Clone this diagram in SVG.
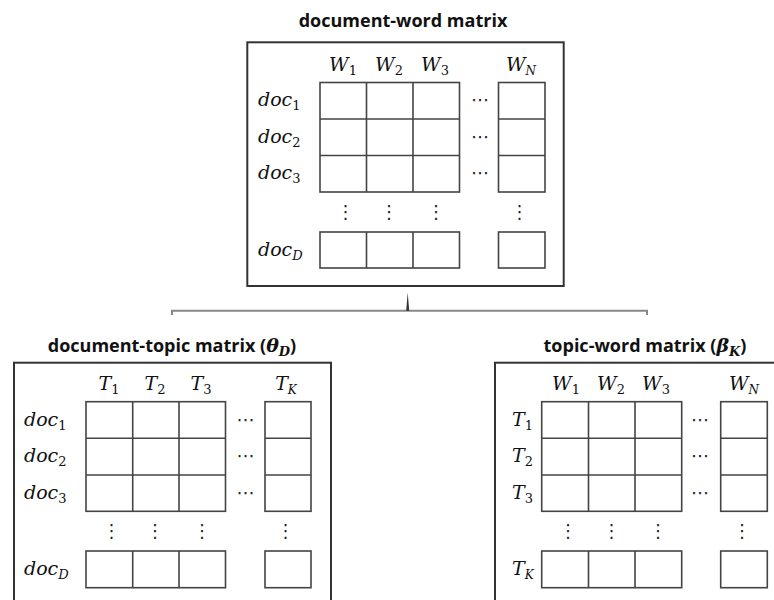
<svg xmlns="http://www.w3.org/2000/svg" width="774" height="600" viewBox="0 0 774 600">
<style>
.title{font-family:"Open Sans","Noto Sans",sans-serif;font-weight:bold;font-size:18px;fill:#111;}
.m{font-family:"DejaVu Serif","Liberation Serif",serif;font-style:italic;font-size:19px;fill:#111;}
.mc{font-family:"DejaVu Serif","Liberation Serif",serif;font-style:italic;font-size:19px;fill:#111;text-anchor:middle;}
.dots{font-family:"DejaVu Sans",sans-serif;font-size:18px;fill:#222;text-anchor:middle;}
.box{fill:#fff;stroke:#333;stroke-width:2;}
.cell{fill:none;stroke:#444;stroke-width:1.6;}
.br{fill:none;stroke:#888;stroke-width:2;}
</style>
<rect width="774" height="600" fill="#fff"/>
<g id="connectors">
<path class="br" d="M172,315 V310.7 H647 V315"/>
<path d="M406.2,310.7 L407.7,292.5 L409.2,310.7 Z" fill="#333"/>
</g>
<g id="doc-word">
<text class="title" x="403" y="27" text-anchor="middle">document-word matrix</text>
<rect class="box" x="247.3" y="42.3" width="316.4" height="243.7"/>
<text class="mc" x="343" y="71">W<tspan dy="4" font-size="13" font-style="normal">1</tspan></text>
<text class="mc" x="389" y="71">W<tspan dy="4" font-size="13" font-style="normal">2</tspan></text>
<text class="mc" x="435" y="71">W<tspan dy="4" font-size="13" font-style="normal">3</tspan></text>
<text class="mc" x="521" y="71">W<tspan dy="4" font-size="12">N</tspan></text>
<text class="m" x="258" y="106">doc<tspan dy="4" font-size="13" font-style="normal">1</tspan></text>
<text class="m" x="258" y="142.5">doc<tspan dy="4" font-size="13" font-style="normal">2</tspan></text>
<text class="m" x="258" y="179">doc<tspan dy="4" font-size="13" font-style="normal">3</tspan></text>
<text class="m" x="258" y="255.5">doc<tspan dy="4" font-size="13">D</tspan></text>
<rect class="cell" x="320" y="82.5" width="139.5" height="109.5"/>
<path class="cell" d="M366.5,82.5V192M413,82.5V192M320,119H459.5M320,155.5H459.5"/>
<rect class="cell" x="498.5" y="82.5" width="46.5" height="109.5"/>
<path class="cell" d="M498.5,119H545M498.5,155.5H545"/>
<rect class="cell" x="320" y="232" width="139.5" height="36"/>
<path class="cell" d="M366.5,232V268M413,232V268"/>
<rect class="cell" x="498.5" y="232" width="46.5" height="36"/>
<text class="dots" x="480" y="106">⋯</text>
<text class="dots" x="480" y="142.5">⋯</text>
<text class="dots" x="480" y="179">⋯</text>
<text class="dots" x="345.5" y="218">⋮</text>
<text class="dots" x="389" y="218">⋮</text>
<text class="dots" x="436" y="218">⋮</text>
<text class="dots" x="519.5" y="218">⋮</text>
</g>
<g id="doc-topic">
<text class="title" x="172" y="352" text-anchor="middle">document-topic matrix (<tspan class="m" font-weight="bold">θ<tspan dy="4" font-size="13">D</tspan></tspan><tspan dy="-4">)</tspan></text>
<rect class="box" x="14" y="362.7" width="317" height="250"/>
<text class="mc" x="109" y="390">T<tspan dy="4" font-size="13" font-style="normal">1</tspan></text>
<text class="mc" x="155" y="390">T<tspan dy="4" font-size="13" font-style="normal">2</tspan></text>
<text class="mc" x="201" y="390">T<tspan dy="4" font-size="13" font-style="normal">3</tspan></text>
<text class="mc" x="286" y="390">T<tspan dy="4" font-size="12">K</tspan></text>
<text class="m" x="24" y="425.5">doc<tspan dy="4" font-size="13" font-style="normal">1</tspan></text>
<text class="m" x="24" y="462">doc<tspan dy="4" font-size="13" font-style="normal">2</tspan></text>
<text class="m" x="24" y="498.5">doc<tspan dy="4" font-size="13" font-style="normal">3</tspan></text>
<text class="m" x="24" y="574.5">doc<tspan dy="4" font-size="13">D</tspan></text>
<rect class="cell" x="86" y="401.7" width="139.5" height="109.6"/>
<path class="cell" d="M132.7,401.7V511.3M179,401.7V511.3M86,438.3H225.5M86,475H225.5"/>
<rect class="cell" x="265" y="401.7" width="46" height="109.6"/>
<path class="cell" d="M265,438.3H311M265,475H311"/>
<rect class="cell" x="86" y="551" width="139.5" height="36.7"/>
<path class="cell" d="M132.7,551V587.7M179,551V587.7"/>
<rect class="cell" x="265" y="551" width="46" height="36.7"/>
<text class="dots" x="245.5" y="425.5">⋯</text>
<text class="dots" x="245.5" y="462">⋯</text>
<text class="dots" x="245.5" y="498.5">⋯</text>
<text class="dots" x="111.5" y="537">⋮</text>
<text class="dots" x="155" y="537">⋮</text>
<text class="dots" x="202" y="537">⋮</text>
<text class="dots" x="285.5" y="537">⋮</text>
</g>
<g id="topic-word">
<text class="title" x="645" y="352" text-anchor="middle">topic-word matrix (<tspan class="m" font-weight="bold">β<tspan dy="4" font-size="13">K</tspan></tspan><tspan dy="-4">)</tspan></text>
<rect class="box" x="495" y="362.7" width="290" height="250"/>
<text class="mc" x="566" y="390">W<tspan dy="4" font-size="13" font-style="normal">1</tspan></text>
<text class="mc" x="611" y="390">W<tspan dy="4" font-size="13" font-style="normal">2</tspan></text>
<text class="mc" x="656" y="390">W<tspan dy="4" font-size="13" font-style="normal">3</tspan></text>
<text class="mc" x="744" y="390">W<tspan dy="4" font-size="12">N</tspan></text>
<text class="m" x="512" y="425.5">T<tspan dy="4" font-size="13" font-style="normal">1</tspan></text>
<text class="m" x="512" y="462">T<tspan dy="4" font-size="13" font-style="normal">2</tspan></text>
<text class="m" x="512" y="498.5">T<tspan dy="4" font-size="13" font-style="normal">3</tspan></text>
<text class="m" x="512" y="574.5">T<tspan dy="4" font-size="12">K</tspan></text>
<rect class="cell" x="541.7" y="401.7" width="140" height="109.6"/>
<path class="cell" d="M588.5,401.7V511.3M635,401.7V511.3M541.7,438.3H681.7M541.7,475H681.7"/>
<rect class="cell" x="720.7" y="401.7" width="46.6" height="109.6"/>
<path class="cell" d="M720.7,438.3H767.3M720.7,475H767.3"/>
<rect class="cell" x="541.7" y="551" width="140" height="36.7"/>
<path class="cell" d="M588.5,551V587.7M635,551V587.7"/>
<rect class="cell" x="720.7" y="551" width="46.6" height="36.7"/>
<text class="dots" x="700" y="425.5">⋯</text>
<text class="dots" x="700" y="462">⋯</text>
<text class="dots" x="700" y="498.5">⋯</text>
<text class="dots" x="568" y="537">⋮</text>
<text class="dots" x="611.5" y="537">⋮</text>
<text class="dots" x="658" y="537">⋮</text>
<text class="dots" x="742" y="537">⋮</text>
</g>
</svg>
